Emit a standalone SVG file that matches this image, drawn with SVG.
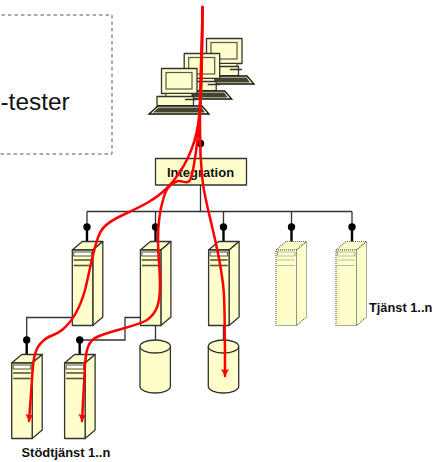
<svg xmlns="http://www.w3.org/2000/svg" xmlns:xlink="http://www.w3.org/1999/xlink" width="435" height="462" viewBox="0 0 435 462">
<style>
.f{fill:#ffffcc;stroke:#333;stroke-width:1.3;stroke-linejoin:round}
.d{fill:#ffffcc;stroke:#555;stroke-width:1.1;stroke-dasharray:1 1}
.w{fill:none;stroke:#333;stroke-width:1.3}
.stem{fill:none;stroke:#000;stroke-width:2.4}
.ball{fill:#000}
.s{stroke:#555533;stroke-width:1.6;fill:#fff}
.sd{stroke:#777;stroke-width:1.2;stroke-dasharray:1 1;fill:none}
.r{fill:none;stroke:#ff0000;stroke-width:2.5;stroke-linecap:round}
.b{font-family:"Liberation Sans",Arial,sans-serif;font-weight:bold;fill:#111}
</style>
<defs>
<g id="pc">
<rect class="f" x="161.500" y="68.500" width="35.500" height="25" stroke-width="1.600"/>
<rect x="166" y="72.500" width="26" height="16.500" fill="#ffffcc" stroke="#555" stroke-width="1.200"/>
<rect x="166" y="93.500" width="26" height="3" fill="#ffffcc" stroke="#333"/>
<rect class="f" x="157" y="96.500" width="36.500" height="9.500"/>
<line x1="185" y1="99.500" x2="197" y2="99.500" stroke="#333" stroke-width="1.500"/>
<polygon points="158,106 202,106 209,114 149,114" fill="#ffffcc" stroke="#111" stroke-width="1.300"/>
<polygon points="158.500,107.500 201.500,107.500 205,112.500 153,112.500" fill="#444433"/>
</g>
<g id="srv">
<path class="f" d="M0 8.500L10 0H30.500L20.500 8.500Z"/>
<path class="f" d="M20.500 8.500L30.500 0V75.500L20.500 84Z"/>
<rect class="f" x="0" y="8.500" width="20.500" height="75.500"/>
<rect x="1.500" y="10.500" width="17.500" height="4" fill="#fff" stroke="#555533"/>
<line class="s" x1="1.500" y1="18.500" x2="19" y2="18.500"/>
<line class="s" x1="1.500" y1="24" x2="19" y2="24"/>
</g>
<g id="srvd">
<path class="d" d="M0 8.500L10 0H30.500L20.500 8.500Z"/>
<path class="d" d="M20.500 8.500L30.500 0V75.500L20.500 84Z"/>
<rect class="d" x="0" y="8.500" width="20.500" height="75.500"/>
<rect class="sd" x="1.500" y="10.500" width="17.500" height="4"/>
<line class="sd" x1="1.500" y1="18.500" x2="19" y2="18.500"/>
<line class="sd" x1="1.500" y1="24" x2="19" y2="24"/>
</g>
<g id="cyl">
<path class="f" d="M0 6.500V46.500C0 50 7 53 15.200 53S30.400 50 30.400 46.500V6.500"/>
<ellipse class="f" cx="15.200" cy="6.500" rx="15.200" ry="6.500"/>
</g>
<marker id="arr" markerUnits="userSpaceOnUse" markerWidth="9" markerHeight="9" refX="7" refY="4" orient="auto">
<path d="M0 0L7.500 4L0 8L1.500 4Z" fill="#ff0000"/>
</marker>
</defs>

<g id="tester">
<path d="M-5 15H112V154H-5" fill="none" stroke="#555" stroke-width="1" stroke-dasharray="3.500 3"/>
<text x="0.500" y="110" font-family="Liberation Sans, Arial, sans-serif" font-size="24.400" fill="#111">-tester</text>
</g>

<g id="connectors">
<path class="w" d="M200.500 113V158M200.500 185V211.500M87 211.500H352M155.500 325V340M223.500 325V340M72 317.500H26.700V340M140.500 317.500H125V340H80"/>
<path class="w" d="M87 211.500V227M155.500 211.500V227M223.500 211.500V227M291.500 211.500V227M352 211.500V227"/>
<path class="stem" d="M87 227V242M155.500 227V242M223.500 227V242M291.500 227V242M352 227V242M26.700 340V355M79.700 340V355"/>
<circle class="ball" cx="200.500" cy="143.500" r="3.700"/>
<circle class="ball" cx="87" cy="227" r="3.700"/>
<circle class="ball" cx="155.500" cy="227" r="3.700"/>
<circle class="ball" cx="223.500" cy="227" r="3.700"/>
<circle class="ball" cx="291.500" cy="227" r="3.700"/>
<circle class="ball" cx="352" cy="227" r="3.700"/>
<circle class="ball" cx="26.700" cy="340" r="3.700"/>
<circle class="ball" cx="79.700" cy="340" r="3.700"/>
</g>

<g id="computer-3"><use xlink:href="#pc" href="#pc" x="45" y="-30"/></g>
<g id="computer-2"><use xlink:href="#pc" href="#pc" x="22.700" y="-15"/></g>
<g id="computer-1"><use xlink:href="#pc" href="#pc"/></g>

<g id="integration">
<rect class="f" x="155.500" y="158.500" width="91" height="26.500"/>
<text class="b" x="200.500" y="177" font-size="13" text-anchor="middle">Integration</text>
</g>

<g id="server-1"><use xlink:href="#srv" href="#srv" x="72.300" y="241.500"/></g>
<g id="server-2"><use xlink:href="#srv" href="#srv" x="140.400" y="241.500"/></g>
<g id="server-3"><use xlink:href="#srv" href="#srv" x="208.600" y="241.500"/></g>
<g id="server-4"><use xlink:href="#srvd" href="#srvd" x="276" y="241.500"/></g>
<g id="server-5">
<use xlink:href="#srvd" href="#srvd" x="336" y="241.500"/>
<text class="b" x="369" y="312" font-size="12.800">Tjänst 1..n</text>
</g>
<g id="support-1"><use xlink:href="#srv" href="#srv" x="11.700" y="354.500"/></g>
<g id="support-2">
<use xlink:href="#srv" href="#srv" x="64.600" y="354.500"/>
</g>
<text class="b" x="21.500" y="457" font-size="12.900">Stödtjänst 1..n</text>
<g id="db-1"><use xlink:href="#cyl" href="#cyl" x="140" y="340"/></g>
<g id="db-2"><use xlink:href="#cyl" href="#cyl" x="208.300" y="340"/></g>

<g id="flows">
<path class="r" marker-end="url(#arr)" d="M202.500 7C202 50 202 100 198 125C195 145 185 170 167 188C155 200 140 207 127 213C112 220 103 225 99 235C93 250 90 270 85 290C80 308 72 322 62 330C55 336 48 335 42 342C33 350 33 365 32 380L29 421"/>
<path class="r" marker-end="url(#arr)" d="M202.500 7C202 50 202 100 199 125C197 145 195 165 191 178C188 186 183 180 178 181C168 184 165 192 163 200C160 210 158 222 158 240C158 255 160 270 160 285C160 303 157 313 147 320C135 327 112 330 97 337C88 341 86 350 85 365L82 421"/>
<path class="r" marker-end="url(#arr)" d="M202.500 7C202 50 199 100 200 133C200 150 201 165 202 175C203 190 207 205 211 222C215 240 222 265 224 295C225 320 225 350 225 376"/>
</g>
</svg>
